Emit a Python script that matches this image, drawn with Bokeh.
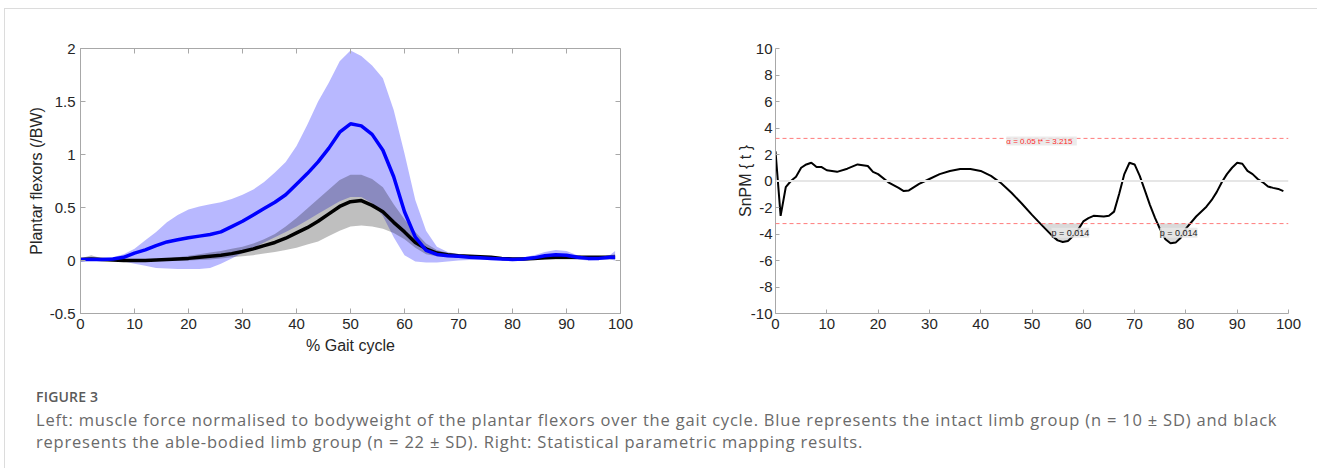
import numpy as np
from bokeh.plotting import figure
from bokeh.layouts import row, column
from bokeh.models import Div, Span, Label, FixedTicker
from bokeh.embed import file_html
from bokeh.resources import INLINE

# ---------------- data: left panel (plantar flexor force / BW) ----------------
gait = [0, 2, 4, 6, 8, 10, 12, 14, 16, 18, 20, 22, 24, 26, 28, 30, 32, 34, 36, 38,
        40, 42, 44, 46, 48, 50, 52, 54, 56, 58, 60, 62, 64, 66, 68, 70, 72, 74, 76, 78,
        80, 82, 84, 86, 88, 90, 92, 94, 96, 98, 99]

intact_mean = [0.01, 0.01, 0.01, 0.015, 0.03, 0.07, 0.10, 0.14, 0.175, 0.195, 0.215, 0.23, 0.245, 0.27, 0.32, 0.37,
               0.43, 0.49, 0.55, 0.62, 0.72, 0.82, 0.93, 1.06, 1.21, 1.29, 1.27, 1.19, 1.04, 0.79, 0.46,
               0.22, 0.095, 0.057, 0.045, 0.04, 0.03, 0.025, 0.02, 0.015, 0.01, 0.015, 0.025, 0.045, 0.055,
               0.05, 0.03, 0.02, 0.02, 0.03, 0.03]
intact_upper = [0.02, 0.02, 0.02, 0.03, 0.06, 0.11, 0.19, 0.27, 0.36, 0.43, 0.48, 0.51, 0.53, 0.55, 0.58, 0.62,
                0.67, 0.74, 0.83, 0.93, 1.08, 1.28, 1.50, 1.68, 1.88, 1.98, 1.93, 1.84, 1.72, 1.42, 1.01,
                0.57, 0.28, 0.13, 0.08, 0.06, 0.05, 0.04, 0.03, 0.02, 0.02, 0.03, 0.05, 0.08, 0.10,
                0.09, 0.05, 0.03, 0.03, 0.05, 0.09]
intact_lower = [0.0, 0.0, 0.0, -0.005, -0.01, -0.03, -0.05, -0.07, -0.075, -0.08, -0.08, -0.08, -0.07, -0.03, 0.02, 0.07,
                0.12, 0.17, 0.22, 0.27, 0.32, 0.38, 0.44, 0.50, 0.56, 0.60, 0.60, 0.54, 0.42, 0.22, 0.05,
                -0.01, -0.02, -0.02, -0.01, 0.0, 0.005, 0.005, 0.005, 0.005, 0.005, 0.005, 0.01, 0.02, 0.02,
                0.02, 0.01, 0.0, 0.005, 0.01, 0.0]

able_mean = [0.01, 0.015, 0.01, 0.005, 0.0, 0.0, 0.0, 0.005, 0.01, 0.015, 0.02, 0.03, 0.04, 0.05, 0.065, 0.085,
             0.11, 0.14, 0.17, 0.21, 0.26, 0.31, 0.37, 0.44, 0.51, 0.555, 0.565, 0.52, 0.46, 0.36, 0.27,
             0.17, 0.11, 0.07, 0.055, 0.045, 0.04, 0.035, 0.03, 0.02, 0.015, 0.015, 0.02, 0.025, 0.03,
             0.03, 0.03, 0.03, 0.03, 0.03, 0.03]
able_upper = [0.02, 0.05, 0.02, 0.01, 0.01, 0.01, 0.01, 0.015, 0.02, 0.03, 0.045, 0.06, 0.075, 0.09, 0.11, 0.13,
              0.16, 0.20, 0.25, 0.32, 0.40, 0.49, 0.58, 0.67, 0.76, 0.81, 0.81, 0.77, 0.69, 0.53, 0.39,
              0.27, 0.16, 0.10, 0.07, 0.06, 0.05, 0.045, 0.04, 0.03, 0.025, 0.025, 0.03, 0.04, 0.05,
              0.05, 0.045, 0.04, 0.04, 0.05, 0.06]
able_lower = [0.0, 0.0, 0.0, 0.0, -0.005, -0.005, -0.005, -0.005, 0.0, 0.0, 0.0, 0.005, 0.01, 0.02, 0.03, 0.04,
              0.05, 0.065, 0.08, 0.10, 0.12, 0.15, 0.18, 0.23, 0.28, 0.32, 0.33, 0.32, 0.30, 0.26, 0.20,
              0.12, 0.06, 0.04, 0.035, 0.03, 0.025, 0.02, 0.015, 0.01, 0.005, 0.005, 0.01, 0.01, 0.01,
              0.01, 0.01, 0.01, 0.01, 0.01, 0.01]

# ---------------- data: right panel (SnPM{t}) ----------------
spm_x = [0, 1, 2, 3, 4, 5, 6, 7, 8, 9, 10, 12, 14, 16, 18, 19, 20, 22, 24, 25, 26, 28, 30, 32, 34, 36,
         38, 40, 42, 44, 46, 48, 50, 52, 54, 55, 56, 57, 58, 59, 60, 61, 62, 64, 65, 66, 67, 68, 69,
         70, 71, 72, 73, 74, 75, 76, 77, 78, 79, 80, 82, 84, 85, 86, 87, 88, 89, 90, 91, 92, 93, 94,
         95, 96, 97, 98, 99]
spm_t = [2.24, -2.63, -0.47, 0.0, 0.32, 1.0, 1.25, 1.38, 1.06, 1.05, 0.81, 0.69, 0.93, 1.25, 1.13, 0.69,
         0.52, -0.1, -0.52, -0.76, -0.71, -0.22, 0.15, 0.52, 0.76, 0.91, 0.91, 0.76, 0.39, -0.17, -0.89,
         -1.7, -2.56, -3.37, -4.16, -4.48, -4.6, -4.53, -4.16, -3.67, -3.05, -2.8, -2.63, -2.68, -2.63,
         -2.31, -0.96, 0.52, 1.38, 1.25, 0.39, -0.71, -1.82, -2.8, -3.67, -4.4, -4.7, -4.65, -4.28, -3.6,
         -2.68, -1.94, -1.45, -0.84, -0.1, 0.52, 1.0, 1.38, 1.3, 0.76, 0.52, 0.15, -0.1, -0.42, -0.52,
         -0.6, -0.76]
t_crit = 3.215
alpha_text = "α = 0.05   t* = 3.215"
cluster_p = ["p = 0.014", "p = 0.014"]
cluster_x = [53.8, 74.9]

left_xticks = [0, 10, 20, 30, 40, 50, 60, 70, 80, 90, 100]
left_yticks = [-0.5, 0, 0.5, 1, 1.5, 2]
right_yticks = [-10, -8, -6, -4, -2, 0, 2, 4, 6, 8, 10]

FONT = "Liberation Sans"
AXC = "#a8a8a8"
LBL = "#262626"

# ---------------- left figure ----------------
X0, X1, Y0, Y1 = 0, 100, -0.5, 2
FW, FH = 540, 265
p1 = figure(width=695, height=351, x_range=(X0, X1), y_range=(Y0, Y1),
            output_backend="svg", toolbar_location=None,
            min_border_left=75, min_border_right=80, min_border_top=39, min_border_bottom=47)
p1.grid.visible = False
p1.outline_line_color = AXC

p1.varea(x=gait, y1=intact_lower, y2=intact_upper, fill_color="#0000ff", fill_alpha=0.28)
p1.varea(x=gait, y1=able_lower, y2=able_upper, fill_color="#000000", fill_alpha=0.25)
p1.line(gait, able_mean, line_color="black", line_width=3.5)
p1.line(gait, intact_mean, line_color="#0000ff", line_width=3.5)

# mirrored inward ticks on the top and right edges (Matlab box style)
tlx = 5 * (X1 - X0) / FW
tly = 5 * (Y1 - Y0) / FH
p1.segment(x0=left_xticks, y0=[Y1] * len(left_xticks), x1=left_xticks,
           y1=[Y1 - tly] * len(left_xticks), line_color=AXC, line_width=1)
p1.segment(x0=[X1] * len(left_yticks), y0=left_yticks, x1=[X1 - tlx] * len(left_yticks),
           y1=left_yticks, line_color=AXC, line_width=1)

for ax in (p1.xaxis[0], p1.yaxis[0]):
    ax.axis_line_color = AXC
    ax.major_tick_line_color = AXC
    ax.minor_tick_line_color = None
    ax.major_tick_in = 5
    ax.major_tick_out = 0
    ax.major_label_text_font = FONT
    ax.major_label_text_font_size = "15px"
    ax.major_label_text_color = LBL
    ax.axis_label_text_font = FONT
    ax.axis_label_text_font_size = "16px"
    ax.axis_label_text_font_style = "normal"
    ax.axis_label_text_color = LBL
p1.xaxis[0].ticker = FixedTicker(ticks=left_xticks)
p1.yaxis[0].ticker = FixedTicker(ticks=left_yticks)
p1.xaxis[0].axis_label = "% Gait cycle"
p1.yaxis[0].axis_label = "Plantar flexors (/BW)"
p1.yaxis[0].axis_label_standoff = 2
p1.yaxis[0].major_label_overrides = {-0.5: "-0.5", 0: "0", 0.5: "0.5", 1: "1", 1.5: "1.5", 2: "2"}

# ---------------- right figure ----------------
p2 = figure(width=617, height=351, x_range=(0, 100), y_range=(-10, 10),
            output_backend="svg", toolbar_location=None,
            min_border_left=75, min_border_right=29, min_border_top=38, min_border_bottom=41)
p2.grid.visible = False
p2.outline_line_color = None

p2.add_layout(Span(location=0, dimension="width", line_color="#e6e6e6", line_width=2))

xs = np.linspace(spm_x[0], spm_x[-1], 991)
ts = np.interp(xs, spm_x, spm_t)
p2.varea(x=xs, y1=np.minimum(ts, -t_crit), y2=np.full_like(xs, -t_crit),
         fill_color="#d9d9d9", fill_alpha=1.0)

p2.add_layout(Span(location=t_crit, dimension="width", line_color="#ff7b7b",
                   line_width=1, line_dash="4 3"))
p2.add_layout(Span(location=-t_crit, dimension="width", line_color="#ff7b7b",
                   line_width=1, line_dash="4 3"))

p2.line(spm_x, spm_t, line_color="black", line_width=2)

p2.add_layout(Label(x=45.0, y=t_crit - 0.2, text=alpha_text, text_color="#ff2a2a",
                    text_font=FONT, text_font_size="8px", text_baseline="middle",
                    background_fill_color="#e6e6e6", background_fill_alpha=0.8))
for xp, txt in zip(cluster_x, cluster_p):
    p2.add_layout(Label(x=xp, y=-3.9, text=txt, text_color="#222222",
                        text_font=FONT, text_font_size="9px", text_baseline="middle",
                        background_fill_color="#e6e6e6", background_fill_alpha=0.85))

for ax in (p2.xaxis[0], p2.yaxis[0]):
    ax.axis_line_color = AXC
    ax.major_tick_line_color = AXC
    ax.minor_tick_line_color = None
    ax.major_tick_in = 4
    ax.major_tick_out = 0
    ax.major_label_text_font = FONT
    ax.major_label_text_font_size = "15px"
    ax.major_label_text_color = LBL
    ax.axis_label_text_font = FONT
    ax.axis_label_text_font_size = "16px"
    ax.axis_label_text_font_style = "normal"
    ax.axis_label_text_color = LBL
p2.xaxis[0].ticker = FixedTicker(ticks=left_xticks)
p2.yaxis[0].ticker = FixedTicker(ticks=right_yticks)
p2.yaxis[0].major_label_overrides = {t: str(t) for t in right_yticks}
p2.yaxis[0].axis_label = "SnPM { t }"
p2.yaxis[0].major_label_standoff = 3
p2.yaxis[0].axis_label_standoff = -6

# ---------------- caption ----------------
caption_title = "FIGURE 3"
caption_lines = [
    "Left: muscle force normalised to bodyweight of the plantar flexors over the gait cycle. "
    "Blue represents the intact limb group (n = 10 ± SD) and black",
    "represents the able-bodied limb group (n = 22 ± SD). Right: Statistical parametric mapping results.",
]
cap_html = (
    f'<div style="font-family:\'Open Sans\';font-weight:600;font-size:14px;line-height:18px;'
    f'letter-spacing:0.2px;color:#5a5a5a;">{caption_title}</div>'
    f'<div style="font-family:\'Open Sans\';font-size:16.5px;line-height:22px;color:#6a6a6a;'
    f'letter-spacing:0.8px;white-space:nowrap;margin-top:3px;">' + "<br>".join(caption_lines) + "</div>"
)
cap = Div(text=cap_html, width=1312, height=108,
          styles={"padding-top": "23px", "padding-left": "26px", "box-sizing": "border-box"})

layout = column(row(p1, p2), cap, margin=(8, 0, 0, 4),
                styles={"border-top": "1px solid #dcdcdc", "border-left": "1px solid #dcdcdc"})

with open("out.html", "w") as f:
    f.write(file_html(layout, INLINE))
